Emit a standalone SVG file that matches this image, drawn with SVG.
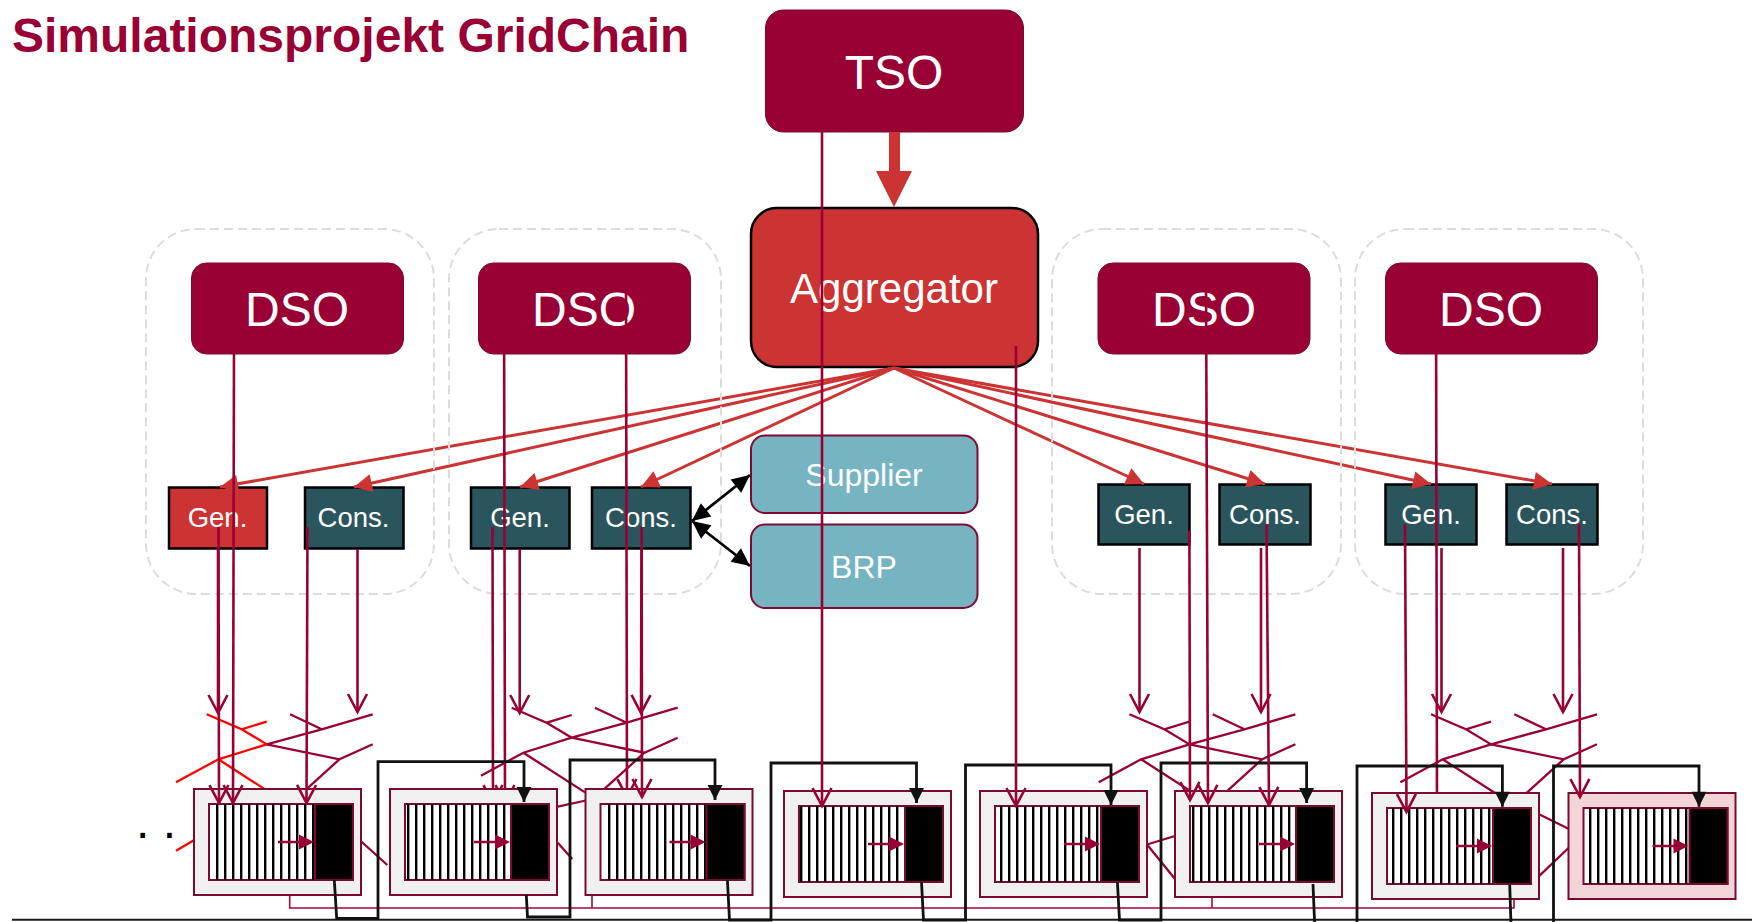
<svg xmlns="http://www.w3.org/2000/svg" xmlns:xlink="http://www.w3.org/1999/xlink" width="1752" height="922" viewBox="0 0 1752 922">
<style>
text{font-family:"Liberation Sans",Arial,sans-serif;fill:#fff;text-anchor:middle}
#title text{fill:#990033;font-weight:bold;font-size:48px;text-anchor:start}
.dso{fill:#990033;stroke:#7a0a33;stroke-width:1}
.big{font-size:48px}
.small{font-size:27.5px}
.mid{font-size:32px}
.dev{stroke:#000;stroke-width:2.5;fill:#2b555c}
.devr{stroke:#000;stroke-width:2.5;fill:#cc3333}
.svc{fill:#76b4c2;stroke:#7f0a35;stroke-width:2}
.frame{fill:none;stroke:#dcdcdc;stroke-width:2;stroke-dasharray:9 5}
.r{stroke:#cc3333;stroke-width:3;fill:none;marker-end:url(#ah)}
.p{stroke:#990033;stroke-width:2.6;fill:none;marker-end:url(#oa)}
.k{stroke:#111;stroke-width:2.8;fill:none;marker-end:url(#ka)}
.tp{stroke:#990033;stroke-width:2.3;fill:none}
.tr{stroke:#ff0000;stroke-width:2.3;fill:none}
.outer{fill:#f0f0f0;stroke:#7a0a33;stroke-width:2}
.outerp{fill:#f4d5d7;stroke:#7a0a33;stroke-width:2}
.stripes{stroke:#000;stroke-width:76;stroke-dasharray:2.4 5.6;fill:none}
</style>
<defs>
<marker id="ah" markerUnits="userSpaceOnUse" markerWidth="24" markerHeight="24" refX="19" refY="12" orient="auto"><path d="M1 3L19 12L1 21Z" fill="#cc3333"/></marker>
<marker id="oa" markerUnits="userSpaceOnUse" markerWidth="26" markerHeight="26" refX="20" refY="13" orient="auto"><path d="M2 3.5L20 13L2 22.5" fill="none" stroke="#990033" stroke-width="2.6"/></marker>
<marker id="ka" markerUnits="userSpaceOnUse" markerWidth="20" markerHeight="20" refX="16" refY="10" orient="auto"><path d="M1 2.5L16 10L1 17.5Z" fill="#111"/></marker>
<marker id="kb" markerUnits="userSpaceOnUse" markerWidth="24" markerHeight="24" refX="19" refY="12" orient="auto-start-reverse"><path d="M1 3.5L19 12L1 20.5Z" fill="#000"/></marker>
<path id="treeL" d="M-60-30L-25-15L0-22.7M-25-15L0 0L-48.3 15L-90.7 38M-48.3 15L13.3 54.7"/>
<path id="treeR" d="M0 0L55-15L106-30M55-15L23.3-30M0 0L72.7 15L106 0M72.7 15L33 51"/>
<rect id="base" x="15" y="15" width="144" height="76" fill="#fff" stroke="#7a0a33" stroke-width="2"/>
<g id="core"><rect x="121" y="15" width="38" height="76" fill="#000" stroke="#7a0a33" stroke-width="2"/><path d="M84 53H106" stroke="#990033" stroke-width="2.5"/><path d="M105 45.5L120 53L105 60.5Z" fill="#990033"/></g>
</defs>
<rect width="1752" height="922" fill="#fff"/>
<g id="title"><text x="12" y="52">Simulationsprojekt GridChain</text></g>
<g id="tso"><rect class="dso" x="765.5" y="10" width="258" height="122" rx="18"/><text class="big" x="894" y="88.500">TSO</text></g>
<g id="aggregator"><rect x="751" y="208" width="287" height="159" rx="26" fill="#cc3333" stroke="#000" stroke-width="2.5"/><text x="894" y="303" font-size="42">Aggregator</text></g>
<g id="dso1"><rect class="dso" x="191.500" y="263" width="212" height="91" rx="15"/><text class="big" x="297" y="326">DSO</text></g>
<g id="dso2"><rect class="dso" x="478.500" y="263" width="212" height="91" rx="15"/><text class="big" x="584" y="326">DSO</text></g>
<g id="dso3"><rect class="dso" x="1098" y="263" width="212" height="91" rx="15"/><text class="big" x="1204" y="326">DSO</text></g>
<g id="dso4"><rect class="dso" x="1385.500" y="263" width="212" height="91" rx="15"/><text class="big" x="1491" y="326">DSO</text></g>
<g id="gen1"><rect class="devr" x="169" y="487.500" width="98" height="61"/><text class="small" x="217.500" y="527">Gen.</text></g>
<g id="cons1"><rect class="dev" x="305" y="487.500" width="98.500" height="61"/><text class="small" x="353.500" y="527">Cons.</text></g>
<g id="gen2"><rect class="dev" x="471" y="487.500" width="98.500" height="61"/><text class="small" x="520" y="527">Gen.</text></g>
<g id="cons2"><rect class="dev" x="592" y="487.500" width="98.500" height="61"/><text class="small" x="641" y="527">Cons.</text></g>
<g id="gen3"><rect class="dev" x="1098.500" y="484.500" width="91" height="60"/><text class="small" x="1144" y="524">Gen.</text></g>
<g id="cons3"><rect class="dev" x="1219.500" y="484.500" width="91" height="60"/><text class="small" x="1265" y="524">Cons.</text></g>
<g id="gen4"><rect class="dev" x="1385.500" y="484.500" width="91" height="60"/><text class="small" x="1431" y="524">Gen.</text></g>
<g id="cons4"><rect class="dev" x="1506.500" y="484.500" width="91" height="60"/><text class="small" x="1552" y="524">Cons.</text></g>
<g id="supplier"><rect class="svc" x="751" y="435.500" width="226.500" height="77.500" rx="14"/><text class="mid" x="864" y="486">Supplier</text></g>
<g id="brp"><rect class="svc" x="751" y="524.500" width="226.500" height="83.500" rx="14"/><text class="mid" x="864" y="578">BRP</text></g>
<g id="connectors-aggregator">
<path d="M889 132H900V171H912L894 207L876 171H889Z" fill="#cc3333"/>
<path class="r" d="M894 368L220 487"/>
<path class="r" d="M894 368L354 487"/>
<path class="r" d="M894 368L520 487"/>
<path class="r" d="M894 368L641 487"/>
<path class="r" d="M894 368L1144 484"/>
<path class="r" d="M894 368L1265 484"/>
<path class="r" d="M894 368L1431 484"/>
<path class="r" d="M894 368L1552 484"/>
</g>
<g id="area1"><rect class="frame" x="146" y="229" width="288" height="365" rx="50"/></g>
<g id="area2"><rect class="frame" x="449" y="229" width="272" height="365" rx="50"/></g>
<g id="area3"><rect class="frame" x="1052" y="229" width="289" height="365" rx="50"/></g>
<g id="area4"><rect class="frame" x="1355" y="229" width="288" height="365" rx="50"/></g>
<g id="grid">
<use xlink:href="#treeL" href="#treeL" class="tr" transform="translate(266.7 744.3)"/>
<use xlink:href="#treeR" href="#treeR" class="tp" transform="translate(266.7 744.3)"/>
<use xlink:href="#treeL" href="#treeL" class="tp" transform="translate(571.7 737.7)"/>
<use xlink:href="#treeR" href="#treeR" class="tp" transform="translate(571.7 737.7)"/>
<use xlink:href="#treeL" href="#treeL" class="tp" transform="translate(1189.4 744.3)"/>
<use xlink:href="#treeR" href="#treeR" class="tp" transform="translate(1189.4 744.3)"/>
<use xlink:href="#treeL" href="#treeL" class="tp" transform="translate(1491 744.3)"/>
<use xlink:href="#treeR" href="#treeR" class="tp" transform="translate(1491 744.3)"/>
<path class="tr" d="M176 850.7L196 839"/>
<path class="tp" d="M360.7 841L387.3 865M557.7 806.7L586 800.5M557.7 842.7L572.3 859M1147 844.5L1175 836M1147 844.5L1175 879M1538.5 814L1569 829M1538.5 876.7L1569 847.5"/>
<path d="M289.7 895V908H1514V899M592 895V908M1212 898V908" fill="none" stroke="#a8063f" stroke-width="1.6"/>
</g>
<g id="connectors-behind">
<path class="p" d="M492.5 527L493 803"/>
<path class="p" d="M504 280L505 803"/>
<path class="p" d="M626 280L627 797"/>
<path class="p" d="M1436 280L1437 812"/>
</g>
<g id="line"><path d="M12 919.7H1752" stroke="#1a1a1a" stroke-width="2"/></g>
<g id="unit1"><rect class="outer" x="194" y="789" width="167" height="106"/><use xlink:href="#base" href="#base" x="194" y="789"/><line class="stripes" x1="216" x2="314" y1="842" y2="842"/><use xlink:href="#core" href="#core" x="194" y="789"/></g>
<g id="unit2"><rect class="outer" x="390" y="789" width="167" height="106"/><use xlink:href="#base" href="#base" x="390" y="789"/><line class="stripes" x1="407" x2="511" y1="842" y2="842"/><use xlink:href="#core" href="#core" x="390" y="789"/></g>
<g id="unit3"><rect class="outer" x="585.5" y="789" width="167" height="106"/><use xlink:href="#base" href="#base" x="585.5" y="789"/><line class="stripes" x1="608" x2="706" y1="842" y2="842"/><use xlink:href="#core" href="#core" x="585.5" y="789"/></g>
<g id="unit4"><rect class="outer" x="784" y="791" width="167" height="106"/><use xlink:href="#base" href="#base" x="784" y="791"/><line class="stripes" x1="800" x2="904" y1="844" y2="844"/><use xlink:href="#core" href="#core" x="784" y="791"/></g>
<g id="unit5"><rect class="outer" x="980" y="791" width="167" height="106"/><use xlink:href="#base" href="#base" x="980" y="791"/><line class="stripes" x1="1000" x2="1100" y1="844" y2="844"/><use xlink:href="#core" href="#core" x="980" y="791"/></g>
<g id="unit6"><rect class="outer" x="1175" y="791" width="167" height="106"/><use xlink:href="#base" href="#base" x="1175" y="791"/><line class="stripes" x1="1192" x2="1295" y1="844" y2="844"/><use xlink:href="#core" href="#core" x="1175" y="791"/></g>
<g id="unit7"><rect class="outer" x="1372" y="793" width="167" height="106"/><use xlink:href="#base" href="#base" x="1372" y="793"/><line class="stripes" x1="1392" x2="1492" y1="846" y2="846"/><use xlink:href="#core" href="#core" x="1372" y="793"/></g>
<g id="unit8"><rect class="outerp" x="1568.5" y="793" width="167" height="106"/><use xlink:href="#base" href="#base" x="1568.5" y="793"/><line class="stripes" x1="1589" x2="1689" y1="846" y2="846"/><use xlink:href="#core" href="#core" x="1568.5" y="793"/></g>
<g id="dots"><text x="136" y="838" style="fill:#000;text-anchor:start;font-size:48px">. .</text></g>
<g id="connectors">
<path class="k" d="M334.3 880L336.7 918.3H378V761.7H524V802"/>
<path class="k" d="M526.3 895L527.5 917H570V760H715V800"/>
<path class="k" d="M727.4 880L729.5 920H771V763H916.5V803"/>
<path class="k" d="M921.5 882L923.5 920H965.5V765H1111V805"/>
<path class="k" d="M1117.4 882L1119.5 920H1161V763H1306.6V803"/>
<path class="k" d="M1357 925V766H1502.4V806.7"/>
<path class="k" d="M1553.5 925V766H1699V806.7"/>
<path d="M1313 884L1314.7 925M1509.7 884L1511 925" stroke="#111" stroke-width="2.8" fill="none"/>
<path d="M692 521L750 475" stroke="#000" stroke-width="2.8" fill="none" marker-start="url(#kb)" marker-end="url(#kb)"/>
<path d="M692 521L750 566" stroke="#000" stroke-width="2.8" fill="none" marker-start="url(#kb)" marker-end="url(#kb)"/>
<path class="p" d="M218 549V713"/>
<path class="p" d="M218.5 527L219 803"/>
<path class="p" d="M234 340L233 803"/>
<path class="p" d="M307.5 527L306.5 803"/>
<path class="p" d="M357.5 549V712"/>
<path class="p" d="M519.7 549V713"/>
<path class="p" d="M641.5 549L641 713"/>
<path class="p" d="M641.7 527L642 797"/>
<path class="p" d="M822 100V806"/>
<path class="p" d="M1016 346V806"/>
<path class="p" d="M1139.5 548V712"/>
<path class="p" d="M1189.4 530.7L1190 800"/>
<path class="p" d="M1206 280L1208 803"/>
<path class="p" d="M1261 548V712"/>
<path class="p" d="M1266.5 524L1269 805"/>
<path class="p" d="M1405 524L1406.5 812"/>
<path class="p" d="M1441.5 548V712"/>
<path class="p" d="M1563 548V712"/>
<path class="p" d="M1579 524L1580 797"/>
</g>
</svg>
